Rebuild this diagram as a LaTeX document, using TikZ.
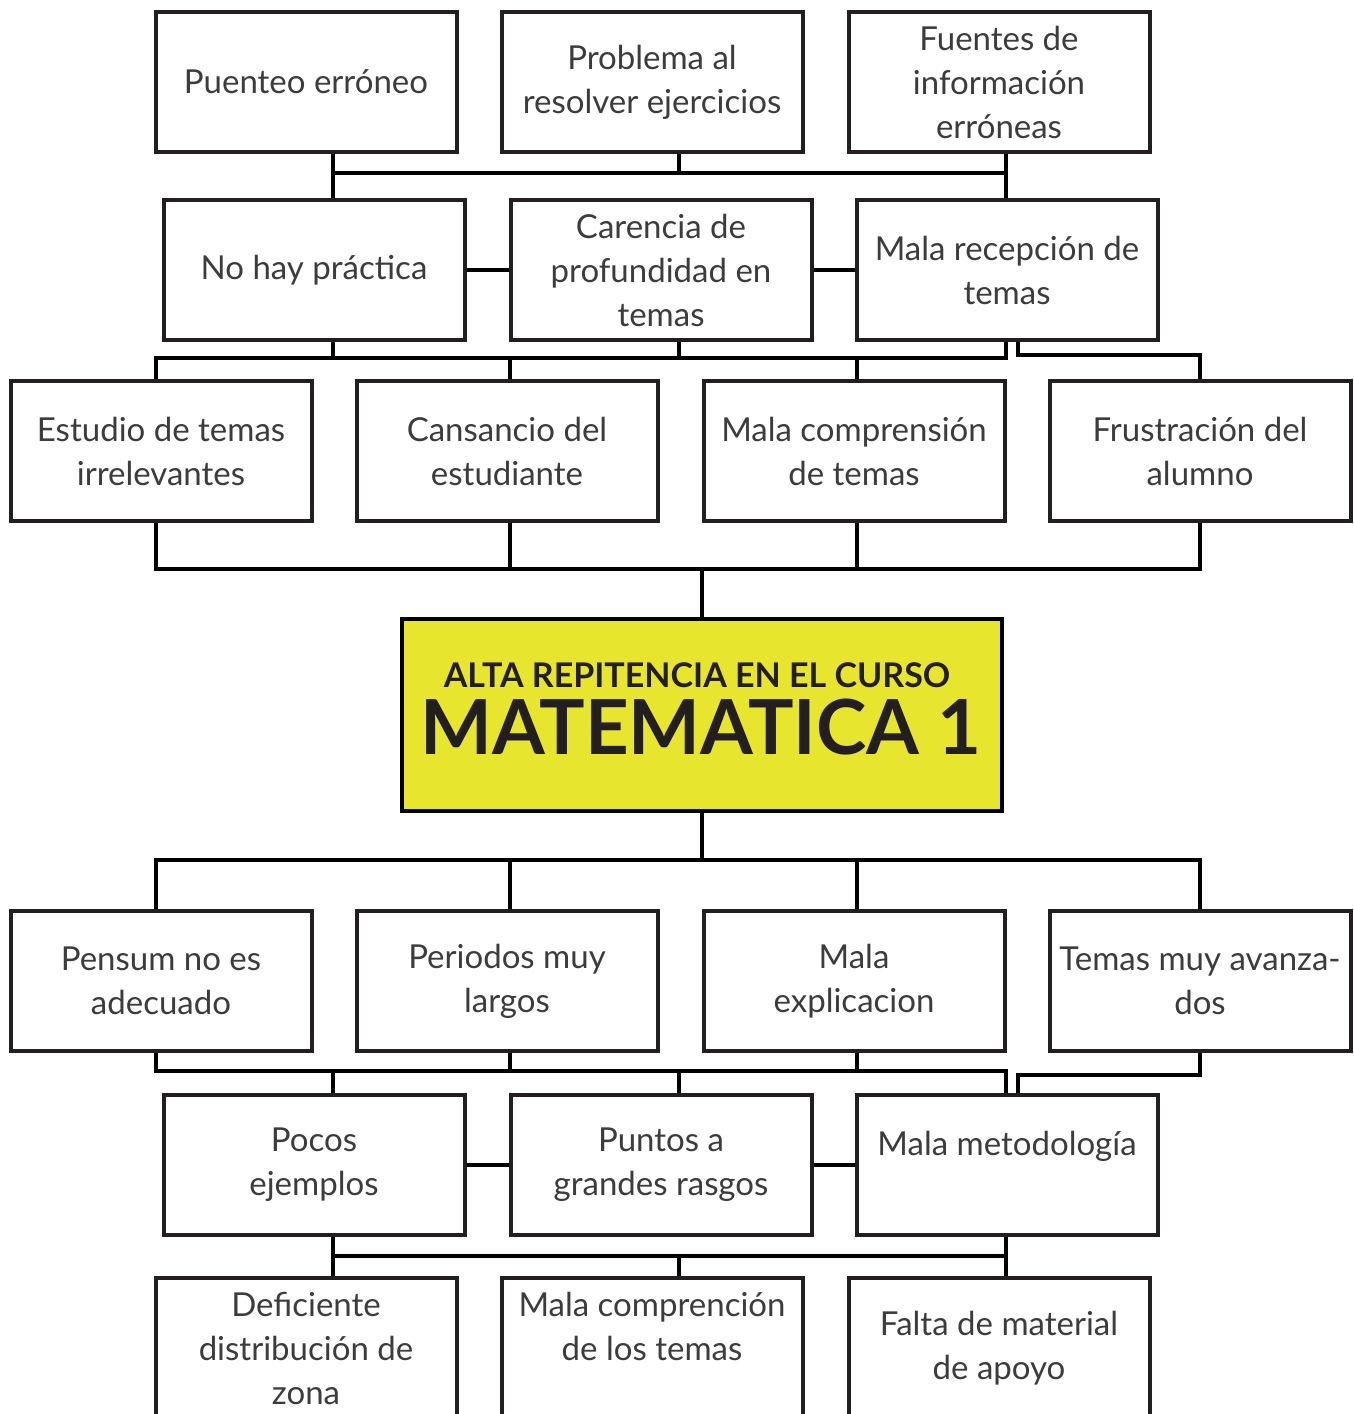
\documentclass[tikz,border=0pt]{standalone}
\usepackage{fontspec}
\setmainfont{Lato}
\usetikzlibrary{calc}

\definecolor{boxline}{HTML}{231F20}
\definecolor{txtgray}{HTML}{3C3C3C}
\definecolor{titleyellow}{HTML}{E8E52E}

\tikzset{
    causa/.style={draw=boxline, line width=4pt, minimum width=301pt, minimum height=140pt,
        inner sep=0pt, align=center, text=txtgray, font=\fontsize{33}{44}\selectfont},
    conn/.style={line width=4pt, black},
}

\begin{document}
\begin{tikzpicture}[x=1pt, y=-1pt]
    \clip (0,0) rectangle (1354,1414);
    \fill[white] (0,0) rectangle (1354,1414);

    % columnas y lineas de union
    \coordinate (cL) at (333,0);
    \coordinate (cM) at (679,0);
    \coordinate (cR) at (1006,0);
    \coordinate (cR2) at (1018,0);
    \coordinate (c1) at (156,0);
    \coordinate (c2) at (510,0);
    \coordinate (c3) at (857,0);
    \coordinate (c4) at (1200,0);
    \coordinate (bus1) at (0,173);
    \coordinate (bus2) at (0,358);
    \coordinate (bus2b) at (0,355);
    \coordinate (bus3) at (0,569);
    \coordinate (bus4) at (0,860);
    \coordinate (bus5) at (0,1071);
    \coordinate (bus5b) at (0,1075);
    \coordinate (bus6) at (0,1256);

    \node[causa] at (306,82) (puenteo) {Puenteo erróneo};
    \node[causa] at (652,82) (problema) {Problema al\\resolver ejercicios};
    \node[causa] at (999,82) (fuentes) {Fuentes de\\información\\erróneas};

    \node[causa] at (314,270) (practica) {No hay práctica};
    \node[causa] at (661,270) (carencia) {Carencia de\\profundidad en\\temas};
    \node[causa] at (1007,270) (recepcion) {Mala recepción de\\temas};

    \node[causa] at (161,451) (estudio) {Estudio de temas\\irrelevantes};
    \node[causa] at (507,451) (cansancio) {Cansancio del\\estudiante};
    \node[causa] at (854,451) (comprension) {Mala comprensión\\de temas};
    \node[causa] at (1200,451) (frustracion) {Frustración del\\alumno};

    \node[draw=black, fill=titleyellow, line width=4pt, minimum width=600pt, minimum height=192pt, inner sep=0pt] at (702,715) (central) {};
    \node[anchor=base, inner sep=0pt, text=boxline, font=\fontsize{34}{34}\bfseries] at (697,687) (tituloA) {ALTA REPITENCIA EN EL CURSO};
    \node[anchor=base, inner sep=0pt, text=boxline, font=\fontsize{76}{76}\bfseries] at (701,754) (tituloB) {MATEMATICA 1};

    \node[causa] at (161,981) (pensum) {Pensum no es\\adecuado};
    \node[causa] at (507,981) (periodos) {Periodos muy\\largos};
    \node[causa] at (854,981) (explicacion) {Mala\\explicacion};
    \node[causa] at (1200,981) (avanzados) {Temas muy avanza-\\dos};

    \node[causa] at (314,1165) (ejemplos) {Pocos\\ejemplos};
    \node[causa] at (661,1165) (puntos) {Puntos a\\grandes rasgos};
    \node[causa] at (1007,1165) (metodologia) {Mala metodología\\\mbox{}};

    \node[causa] at (306,1348) (deficiente) {Deficiente\\distribución de\\zona};
    \node[causa] at (652,1348) (comprencion) {Mala comprención\\de los temas\\\mbox{}};
    \node[causa] at (999,1348) (material) {Falta de material\\de apoyo};

    % parte de arriba
    \draw[conn] (puenteo.south -| cL) -- (practica.north -| cL);
    \draw[conn] (fuentes.south -| cR) -- (recepcion.north -| cR);
    \draw[conn] (problema.south -| cM) -- (cM |- bus1);
    \draw[conn] (cL |- bus1) -- (cR |- bus1);
    \draw[conn] (practica.east) -- (carencia.west);
    \draw[conn] (carencia.east) -- (recepcion.west);

    \draw[conn] (practica.south -| cL) -- (cL |- bus2);
    \draw[conn] (carencia.south -| cM) -- (cM |- bus2);
    \draw[conn] (estudio.north -| c1) |- (cR |- bus2) -- (recepcion.south -| cR);
    \draw[conn] (c2 |- bus2) -- (cansancio.north -| c2);
    \draw[conn] (c3 |- bus2) -- (comprension.north -| c3);
    \draw[conn] (recepcion.south -| cR2) |- (c4 |- bus2b) -- (frustracion.north -| c4);

    \draw[conn] (estudio.south -| c1) |- (c4 |- bus3) -- (frustracion.south -| c4);
    \draw[conn] (cansancio.south -| c2) -- (c2 |- bus3);
    \draw[conn] (comprension.south -| c3) -- (c3 |- bus3);
    \draw[conn] (central.north) -- (central.north |- bus3);

    % parte de abajo
    \draw[conn] (central.south) -- (central.south |- bus4);
    \draw[conn] (pensum.north -| c1) |- (c4 |- bus4) -- (avanzados.north -| c4);
    \draw[conn] (c2 |- bus4) -- (periodos.north -| c2);
    \draw[conn] (c3 |- bus4) -- (explicacion.north -| c3);

    \draw[conn] (pensum.south -| c1) |- (cR |- bus5) -- (metodologia.north -| cR);
    \draw[conn] (periodos.south -| c2) -- (c2 |- bus5);
    \draw[conn] (explicacion.south -| c3) -- (c3 |- bus5);
    \draw[conn] (cL |- bus5) -- (ejemplos.north -| cL);
    \draw[conn] (cM |- bus5) -- (puntos.north -| cM);
    \draw[conn] (avanzados.south -| c4) |- (cR2 |- bus5b) -- (metodologia.north -| cR2);
    \draw[conn] (ejemplos.east) -- (puntos.west);
    \draw[conn] (puntos.east) -- (metodologia.west);

    \draw[conn] (ejemplos.south -| cL) -- (deficiente.north -| cL);
    \draw[conn] (metodologia.south -| cR) -- (material.north -| cR);
    \draw[conn] (cL |- bus6) -- (cR |- bus6);
    \draw[conn] (cM |- bus6) -- (comprencion.north -| cM);
\end{tikzpicture}
\end{document}
